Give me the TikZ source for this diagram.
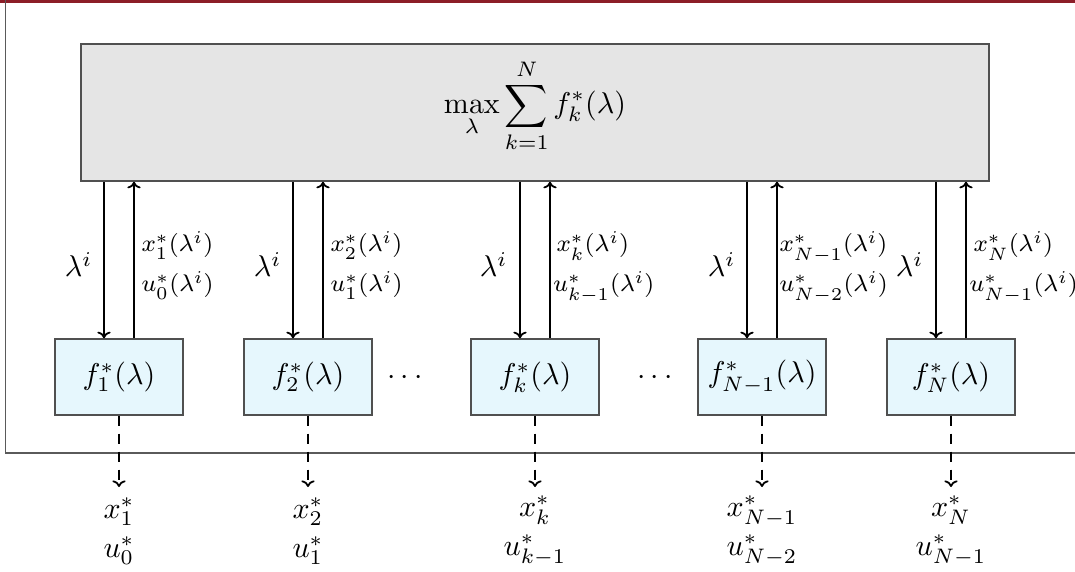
\documentclass[tikz,border=0pt]{standalone}
\usetikzlibrary{arrows.meta}
\definecolor{topred}{RGB}{140,30,40}
\definecolor{framegray}{RGB}{90,90,90}
\definecolor{boxline}{RGB}{80,80,80}
\begin{document}
\begin{tikzpicture}[x=0.33333pt,y=-0.33333pt,
  bigbox/.style={draw=boxline, fill=gray!20, line width=0.5pt, minimum width=302.67pt, minimum height=45.67pt, inner sep=0pt},
  fnode/.style={draw=boxline, fill=cyan!10, line width=0.5pt, minimum width=42.67pt, minimum height=25.33pt, inner sep=0pt},
  arr/.style={-{To[length=2.2pt,width=4.4pt]}, line width=0.6pt},
  darr/.style={-{To[length=2.2pt,width=4.4pt]}, line width=0.6pt, dash pattern=on 3.3pt off 2.7pt},
  lab/.style={inner sep=0pt, font=\footnotesize},
  lam/.style={inner sep=0pt, anchor=base east},
  outl/.style={inner sep=0pt, align=center}]
\useasboundingbox (0,0) rectangle (1075,572);
\fill[topred] (0,0) rectangle (1075,3);
\draw[framegray, line width=0.5pt] (5.5,0) -- (5.5,453) -- (1075,453);

\node[bigbox] (top) at (535,112.5) {};
\node[inner sep=0pt] (toptext) at (535,106) {$\displaystyle\max_{\lambda}\sum_{k=1}^{N} f_k^*(\lambda)$};

\node[fnode] (f1) at (119,377) {$f_1^*(\lambda)$};
\node[fnode] (f2) at (308,377) {$f_2^*(\lambda)$};
\node[fnode] (fk) at (535,377) {$f_k^*(\lambda)$};
\node[fnode] (fm) at (762,377) {$f_{N-1}^*(\lambda)$};
\node[fnode] (fn) at (951,377) {$f_N^*(\lambda)$};

\node[inner sep=0pt] (dots1) at (405,378) {$\cdots$};
\node[inner sep=0pt] (dots2) at (655,378) {$\cdots$};

\foreach \b in {f1,f2,fk,fm,fn}{
  \draw[arr] ([xshift=-5pt]\b.north |- top.south) -- ([xshift=-5pt]\b.north);
  \draw[arr] ([xshift=5pt]\b.north) -- ([xshift=5pt]\b.north |- top.south);
}

\node[lam] (l1) at (93,277) {$\lambda^i$};
\node[lam] (l2) at (282,277) {$\lambda^i$};
\node[lam] (lk) at (508,277) {$\lambda^i$};
\node[lam] (lm) at (736,277) {$\lambda^i$};
\node[lam] (ln) at (924,277) {$\lambda^i$};

\node[lab, anchor=base west] (x1) at (141,252) {$x_1^*(\lambda^i)$};
\node[lab, anchor=base west] (u1) at (141,292) {$u_0^*(\lambda^i)$};
\node[lab, anchor=base west] (x2) at (330,252) {$x_2^*(\lambda^i)$};
\node[lab, anchor=base west] (u2) at (330,292) {$u_1^*(\lambda^i)$};
\node[lab, anchor=base west] (xk) at (556,252) {$x_k^*(\lambda^i)$};
\node[lab, anchor=base west] (uk) at (552.7,292) {$u_{k-1}^*(\lambda^i)$};
\node[lab, anchor=base west] (xm) at (779,252) {$x_{N-1}^*(\lambda^i)$};
\node[lab, anchor=base west] (um) at (779,292) {$u_{N-2}^*(\lambda^i)$};
\node[lab, anchor=base west] (xn) at (973,252) {$x_N^*(\lambda^i)$};
\node[lab, anchor=base west] (un) at (969,292) {$u_{N-1}^*(\lambda^i)$};

\coordinate (e1) at (119,487);
\coordinate (e2) at (308,487);
\coordinate (ek) at (535,487);
\coordinate (em) at (762,487);
\coordinate (en) at (951,487);
\draw[darr] (f1.south) -- (e1);
\draw[darr] (f2.south) -- (e2);
\draw[darr] (fk.south) -- (ek);
\draw[darr] (fm.south) -- (em);
\draw[darr] (fn.south) -- (en);

\node[outl] (o1) at (119,531) {$x_1^*$\\[1pt]$u_0^*$};
\node[outl] (o2) at (308,531) {$x_2^*$\\[1pt]$u_1^*$};
\node[outl] (ok) at (535,531) {$x_k^*$\\[1pt]$u_{k-1}^*$};
\node[outl] (om) at (762,531) {$x_{N-1}^*$\\[1pt]$u_{N-2}^*$};
\node[outl] (on) at (951,531) {$x_N^*$\\[1pt]$u_{N-1}^*$};
\end{tikzpicture}
\end{document}
